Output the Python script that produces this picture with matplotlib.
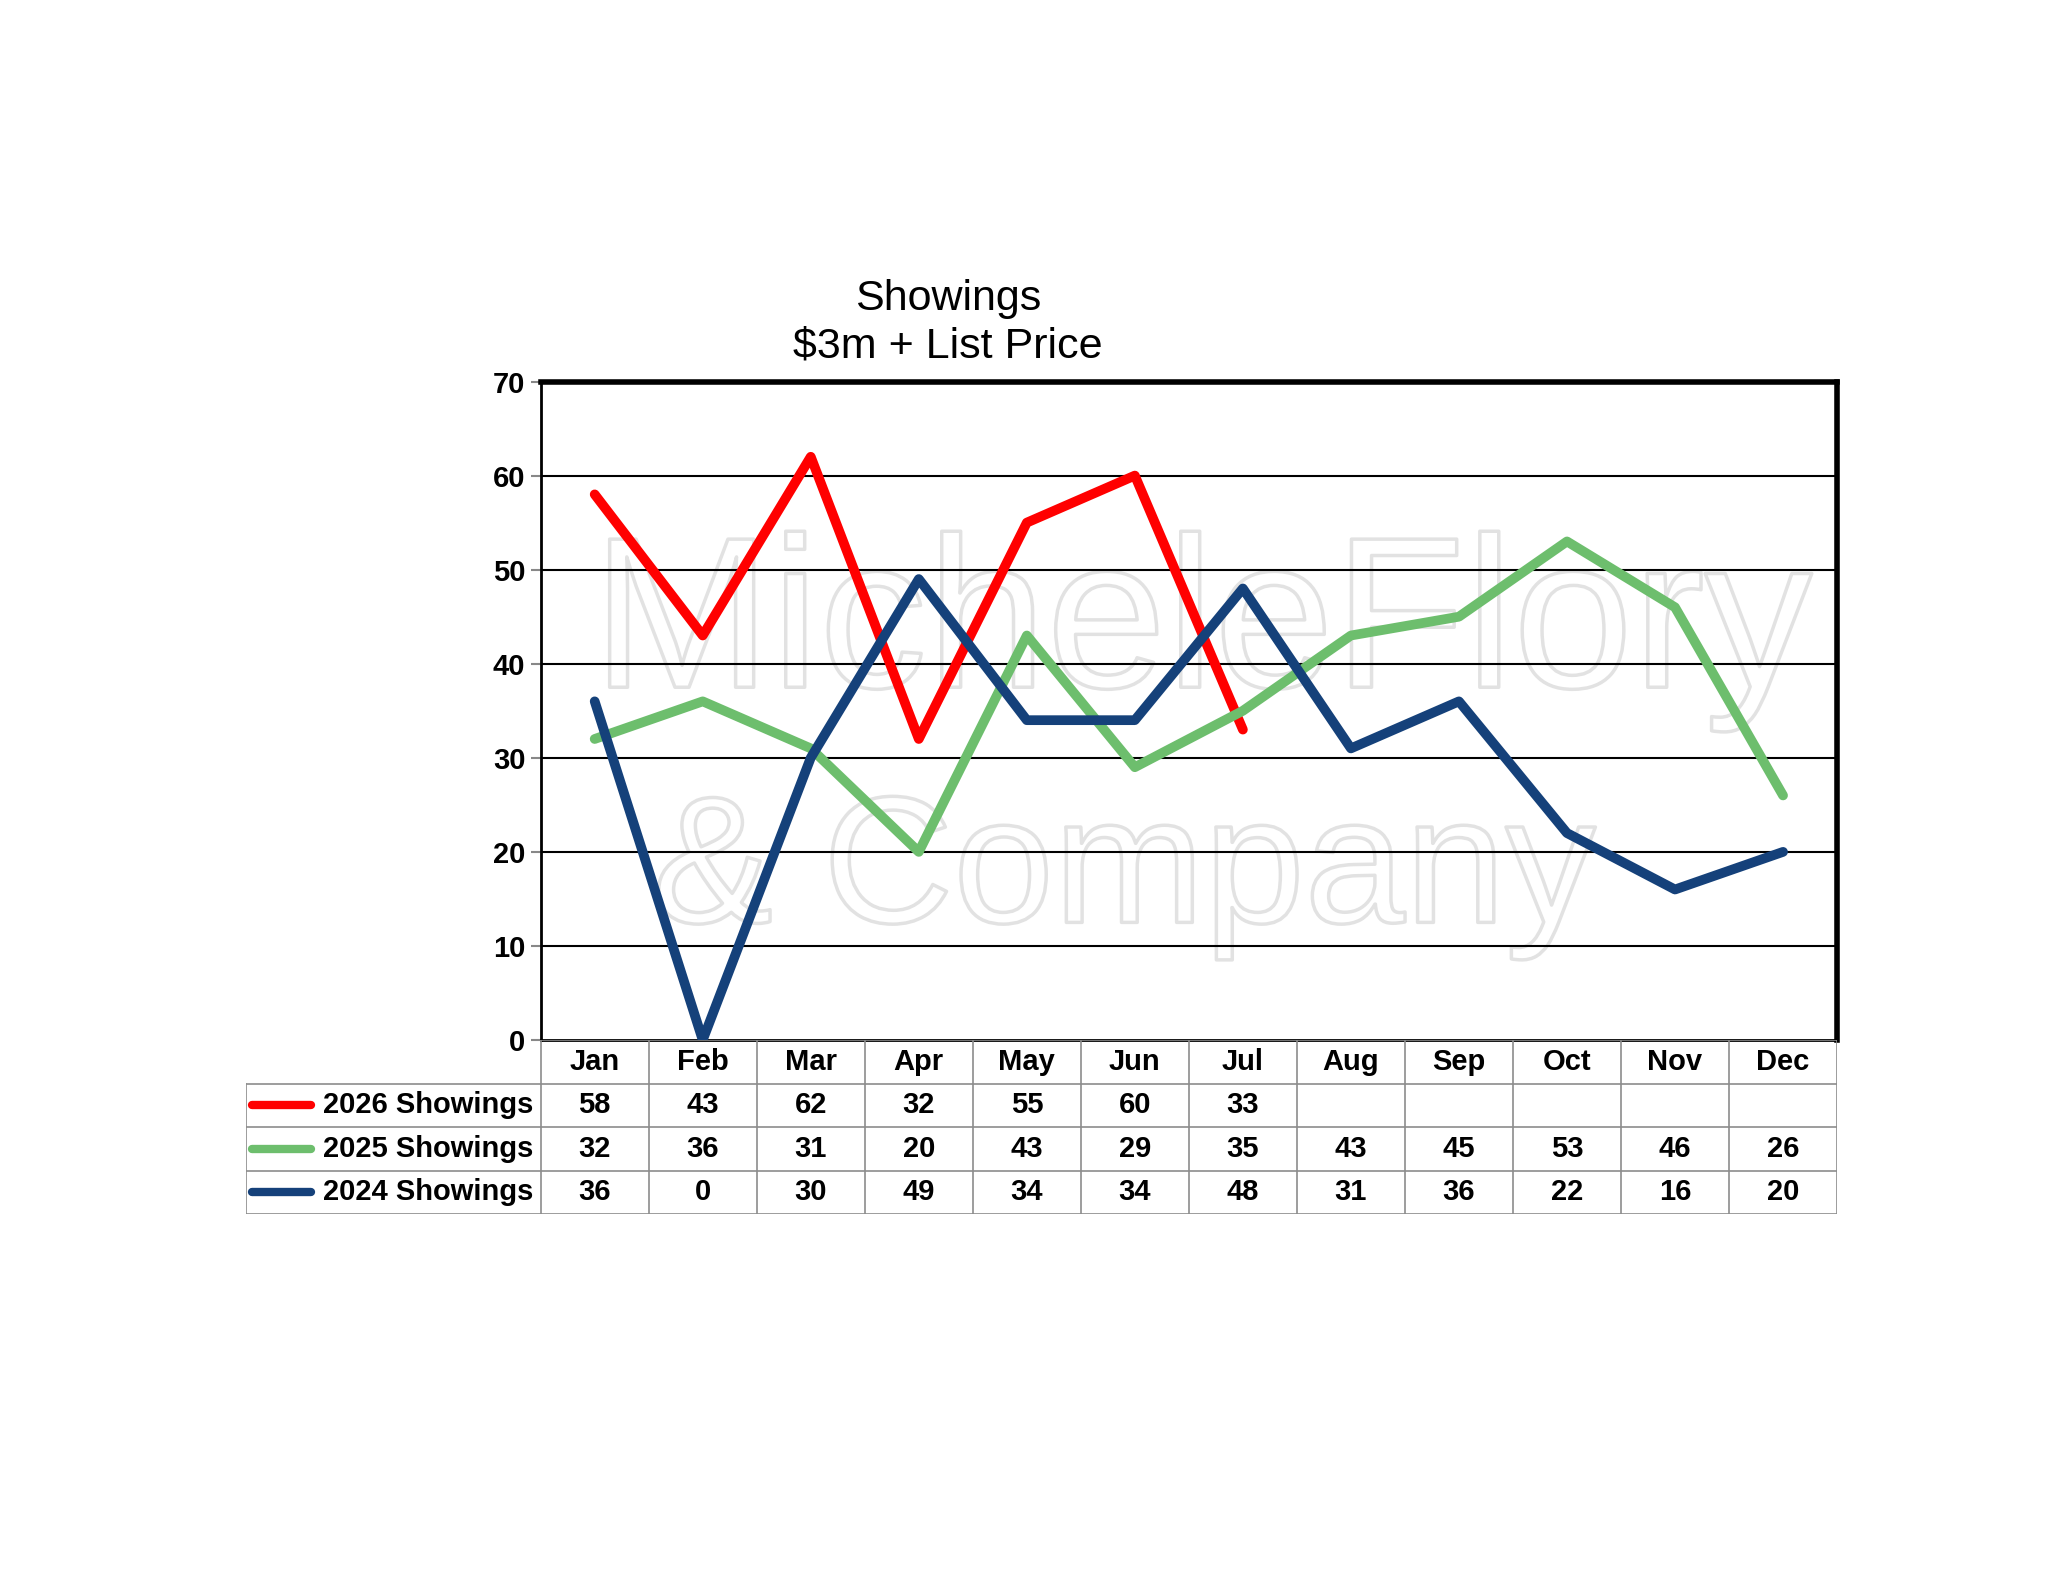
import matplotlib
matplotlib.use("Agg")
import matplotlib.pyplot as plt
import matplotlib.patheffects as pe
import numpy as np

plt.rcParams["font.family"] = ["Liberation Sans", "DejaVu Sans"]

months = ["Jan", "Feb", "Mar", "Apr", "May", "Jun", "Jul", "Aug", "Sep", "Oct", "Nov", "Dec"]
s2026 = [58, 43, 62, 32, 55, 60, 33]
s2025 = [32, 36, 31, 20, 43, 29, 35, 43, 45, 53, 46, 26]
s2024 = [36, 0, 30, 49, 34, 34, 48, 31, 36, 22, 16, 20]
series = [("2026 Showings", s2026, "#FF0000"),
          ("2025 Showings", s2025, "#6DBE6D"),
          ("2024 Showings", s2024, "#15417A")]

fig = plt.figure(figsize=(20.48, 15.83), dpi=100)
L, R, B, T = 0.264, 0.897, 0.343, 0.759
ax = fig.add_axes([L, B, R - L, T - B])
x = np.arange(12)

# faint watermark (behind lines)
ax.text(0.51, 0.62, "MicheleFlory", transform=ax.transAxes, fontsize=155, color="none",
        ha="center", va="center", zorder=0,
        path_effects=[pe.withStroke(linewidth=2.5, foreground="#e2e2e2")])
ax.text(0.45, 0.25, "& Company", transform=ax.transAxes, fontsize=130, color="none",
        ha="center", va="center", zorder=0,
        path_effects=[pe.withStroke(linewidth=2.5, foreground="#e2e2e2")])

for name, vals, col in series:
    ax.plot(x[:len(vals)], vals, color=col, lw=7, solid_capstyle="round", zorder=3)

ax.set_xlim(-0.5, 11.5)
ax.set_ylim(0, 70)
ax.set_yticks(range(0, 71, 10))
ax.set_yticklabels([str(v) for v in range(0, 71, 10)], fontsize=21, fontweight="bold")
ax.set_xticks([])
ax.tick_params(axis="y", length=7, width=1.5, color="#888888", pad=4)
for v in range(10, 70, 10):
    ax.axhline(v, color="black", lw=1.5, zorder=1)
ax.patch.set_alpha(0)
ax.spines["top"].set_linewidth(4)
ax.spines["right"].set_linewidth(4)
ax.spines["left"].set_linewidth(2)
ax.spines["bottom"].set_linewidth(2)
fig.text(0.463, 0.796, "Showings\n$3m + List Price", fontsize=31, ha="center", va="center",
         linespacing=1.25)

# data table below
mw = (R - L) / 12
lab_w = 0.144
TL = L - lab_w
rowh = 0.0275
tb = B - 4 * rowh
tax = fig.add_axes([TL, tb, R - TL, 4 * rowh])
tax.set_xlim(-0.5 - lab_w / mw, 11.5)
tax.set_ylim(4, 0)
tax.axis("off")
gc = "#8c8c8c"
x0 = -0.5 - lab_w / mw
for r in range(5):
    left = -0.5 if r == 0 else x0
    tax.plot([left, 11.5], [r, r], color=gc, lw=1.2)
for c in range(13):
    tax.plot([c - 0.5, c - 0.5], [0, 4], color=gc, lw=1.2)
tax.plot([x0, x0], [1, 4], color=gc, lw=1.2)
for i, m in enumerate(months):
    tax.text(i, 0.5, m, ha="center", va="center", fontsize=21, fontweight="bold")
for r, (name, vals, col) in enumerate(series, start=1):
    tax.plot([x0 + 0.06, x0 + 0.6], [r + 0.5, r + 0.5], color=col, lw=6, solid_capstyle="round")
    tax.text(-0.57, r + 0.5, name, ha="right", va="center", fontsize=21, fontweight="bold")
    for i, v in enumerate(vals):
        tax.text(i, r + 0.5, str(v), ha="center", va="center", fontsize=21, fontweight="bold")

fig.savefig("out.png", dpi=100)
